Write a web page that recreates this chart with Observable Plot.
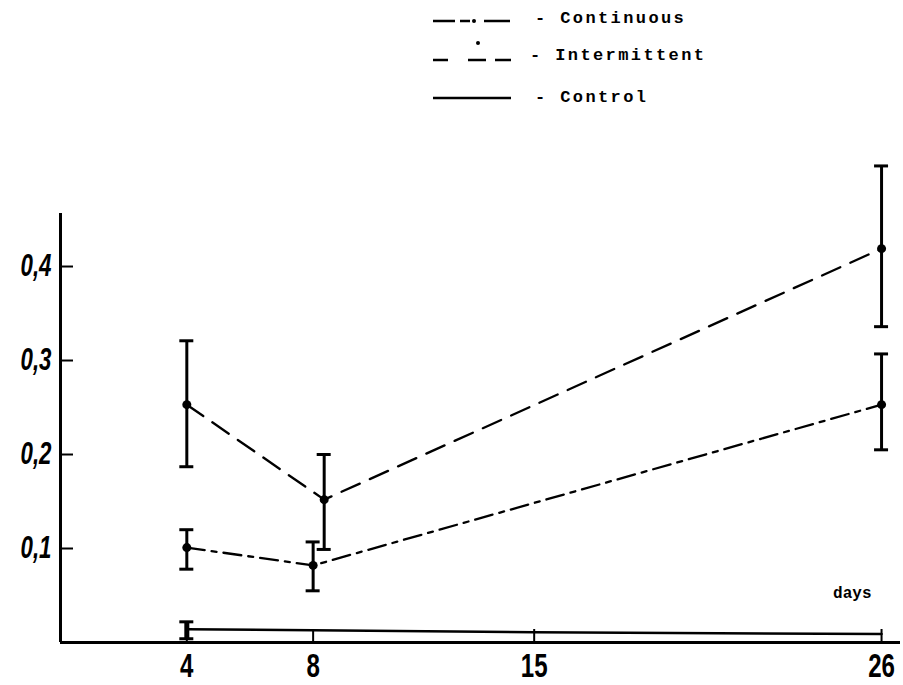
<!DOCTYPE html>
<html><head><meta charset="utf-8">
<script src="https://cdn.jsdelivr.net/npm/d3@7"></script>
<script src="https://cdn.jsdelivr.net/npm/@observablehq/plot@0.6"></script>
<style>
body{margin:0;background:#fff;}
#legend{display:block}
#legend text{font-family:"Liberation Mono","DejaVu Sans Mono",monospace;font-weight:bold;font-size:17px;letter-spacing:2.4px;fill:#000}
#chart svg{display:block}
g[aria-label="x-axis tick label"] text{font-family:"Liberation Sans",sans-serif;font-weight:bold;font-size:33px}
g[aria-label="y-axis tick label"] text{font-family:"Liberation Sans",sans-serif;font-weight:bold;font-style:italic;font-size:31px}
</style></head><body>
<svg id="legend" width="903" height="120">
  <g stroke="#000" stroke-width="2.5" fill="none">
    <path d="M433,21H455M460,21H470M484,21H510"/>
    <path d="M433,60H448M468,60H486M495,60H511"/>
    <path d="M433,98H511"/>
  </g>
  <circle cx="474" cy="21" r="2" fill="#000"/>
  <circle cx="478" cy="43" r="2" fill="#000"/>
  <text x="535" y="23">- Continuous</text>
  <text x="530" y="60">- Intermittent</text>
  <text x="535" y="102">- Control</text>
</svg>
<div id="chart"></div>
<script>
const days = [4, 8, 26];
const intermittentDays = [4, 8.35, 26];
const continuousMean = [0.101, 0.082, 0.253];
const continuousLow = [0.078, 0.055, 0.205];
const continuousHigh = [0.120, 0.107, 0.307];
const intermittentMean = [0.253, 0.152, 0.419];
const intermittentLow = [0.187, 0.099, 0.336];
const intermittentHigh = [0.321, 0.200, 0.507];
const controlDays = [4, 8, 15, 26];
const controlMean = [0.014, 0.013, 0.011, 0.009];
const controlErrDays = [4];
const controlLow = [0.004];
const controlHigh = [0.022];
const xTicks = [4, 8, 15, 26];
const xTickLabels = ["4", "8", "15", "26"];
const yTicks = [0.1, 0.2, 0.3, 0.4];
const yTickLabels = ["0,1", "0,2", "0,3", "0,4"];
const xLabel = "days";

const continuous = days.map((d, i) => ({day: d, mean: continuousMean[i], low: continuousLow[i], high: continuousHigh[i]}));
const intermittent = intermittentDays.map((d, i) => ({day: d, mean: intermittentMean[i], low: intermittentLow[i], high: intermittentHigh[i]}));
const control = controlDays.map((d, i) => ({day: d, mean: controlMean[i]}));
const controlErr = controlErrDays.map((d, i) => ({day: d, low: controlLow[i], high: controlHigh[i]}));

function errorMarks(data, w) {
  return [
    Plot.ruleX(data, {x: "day", y1: "low", y2: "high", strokeWidth: w}),
    Plot.ruleY(data, {x1: "day", x2: "day", y: "low", insetLeft: -7, insetRight: -7, strokeWidth: 3}),
    Plot.ruleY(data, {x1: "day", x2: "day", y: "high", insetLeft: -7, insetRight: -7, strokeWidth: 3})
  ];
}

const chart = Plot.plot({
  width: 903,
  height: 565,
  marginTop: 93,
  marginBottom: 43,
  marginLeft: 60,
  marginRight: 3,
  style: {color: "#000", background: "#fff"},
  x: {domain: [0, 26.6]},
  y: {domain: [0, 0.4564]},
  marks: [
    Plot.ruleY([0], {strokeWidth: 3}),
    Plot.ruleX([0], {strokeWidth: 3}),
    Plot.ruleY(yTicks, {x1: 0, x2: 0, insetRight: -13, strokeWidth: 2}),
    Plot.ruleX(xTicks, {y1: 0, y2: 0, insetBottom: 13, strokeWidth: 2}),
    Plot.axisY({ticks: yTicks, label: null, tickSize: 0, tickPadding: 9, tickFormat: d => yTickLabels[yTicks.indexOf(d)]}),
    Plot.axisX({ticks: xTicks, label: null, tickSize: 0, tickPadding: 11, tickFormat: d => xTickLabels[xTicks.indexOf(d)]}),
    Plot.line(intermittent, {x: "day", y: "mean", strokeWidth: 2.3, strokeDasharray: "20,11"}),
    Plot.line(continuous, {x: "day", y: "mean", strokeWidth: 2.3, strokeDasharray: "18,7,5,7"}),
    Plot.line(control, {x: "day", y: "mean", strokeWidth: 2.5}),
    ...errorMarks(intermittent, 3),
    ...errorMarks(continuous, 3),
    ...errorMarks(controlErr, 5),
    Plot.dot(intermittent, {x: "day", y: "mean", r: 4.5, fill: "#000"}),
    Plot.dot(continuous, {x: "day", y: "mean", r: 4.5, fill: "#000"}),
    Plot.text([xLabel], {text: d => d, frameAnchor: "bottom-right", textAnchor: "end", dx: -29, dy: -45, fontFamily: "Liberation Mono", fontWeight: "bold", fontSize: 16, letterSpacing: 1})
  ]
});
document.getElementById("chart").appendChild(chart);

// condense the tick labels horizontally, as in the scanned original
function condense(selector, s) {
  chart.querySelectorAll(selector).forEach(t => {
    const tr = t.getAttribute("transform");
    const x = t.getAttribute("x");
    if (x != null) t.setAttribute("x", (+x) / s);
    t.setAttribute("transform", (tr ? tr + " " : "") + `scale(${s},1)`);
  });
}
condense('g[aria-label="x-axis tick label"] text', 0.73);
condense('g[aria-label="y-axis tick label"] text', 0.72);
</script>
</body></html>
